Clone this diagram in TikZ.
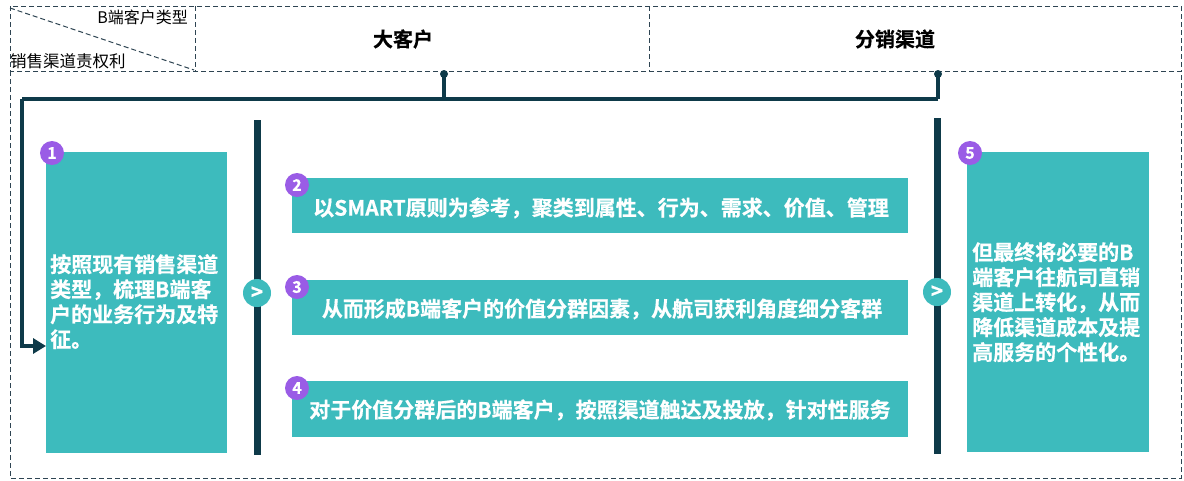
\documentclass[tikz,border=0pt]{standalone}
\usepackage{fontspec}
\setmainfont{Noto Sans CJK SC}
\newfontfamily\cjkb[FakeBold=0.6]{Noto Sans CJK SC Bold}
\usetikzlibrary{arrows.meta}
\definecolor{teal1}{HTML}{3DBBBD}
\definecolor{dark1}{HTML}{0E3A49}
\definecolor{purp}{HTML}{9A5CE6}
\definecolor{bord}{HTML}{2E4452}
\tikzset{
  box/.style={fill=teal1, draw=none},
  bigtxt/.style={text=white, font=\cjkb\fontsize{21}{25}\selectfont, align=left, inner sep=0pt},
  rowtxt/.style={text=white, font=\cjkb\fontsize{21}{23}\selectfont, inner sep=0pt},
  badge/.style={circle, fill=purp, minimum size=24pt, inner sep=0pt, text=white, font=\cjkb\fontsize{16}{16}\selectfont},
  nextc/.style={circle, fill=teal1, minimum size=28pt, inner sep=0pt, text=white, font=\cjkb\fontsize{21}{21}\selectfont},
  dbord/.style={draw=bord, line width=1pt, dash pattern=on 5pt off 3pt},
  conn/.style={draw=dark1, line width=3.2pt},
  vbar/.style={fill=dark1, draw=none},
  dotc/.style={circle, fill=dark1, minimum size=8pt, inner sep=0pt},
}
\begin{document}
\begin{tikzpicture}[x=1pt, y=-1pt]
\useasboundingbox (0,0) rectangle (1184,480);
% header
\draw[dbord] (10,6) rectangle (1181,71);
\draw[dbord] (195,6) -- (195,71);
\draw[dbord] (649,6) -- (649,71);
\draw[dbord] (10,8) -- (194,70);
\node[anchor=east, inner sep=0pt, font=\fontsize{16}{16}\selectfont] (hb) at (188,17) {B端客户类型};
\node[anchor=west, inner sep=0pt, font=\fontsize{16.5}{16.5}\selectfont] (hs) at (10,61) {销售渠道责权利};
\node[inner sep=0pt, font=\cjkb\fontsize{20}{20}\selectfont] (h1) at (403,39) {大客户};
\node[inner sep=0pt, font=\cjkb\fontsize{20}{20}\selectfont] (h2) at (895,39) {分销渠道};
% body border
\draw[dbord] (10,71) rectangle (1181,478);
% connectors
\node[dotc] (d1) at (444,74) {};
\node[dotc] (d2) at (938,74) {};
\coordinate (c1) at (444,99);
\coordinate (c2) at (938,99);
\coordinate (c0) at (22,99);
\coordinate (c3) at (22,346);
\draw[conn] (d1.center) -- (c1);
\draw[conn] (d2.center) -- (c2);
\draw[conn] (c2) -- (c0);
% boxes
\node[box, minimum width=181pt, minimum height=301pt, inner sep=0pt, anchor=north west] (b1) at (46,152) {};
\node[bigtxt, anchor=north west] (t1) at (50,254) {按照现有销售渠道\\类型，梳理B端客\\户的业务行为及特\\征。};
\draw[conn, -{Triangle[length=13pt,width=15pt]}] (c0) -- (c3) -- (c3 -| b1.west);
\node[box, minimum width=182pt, minimum height=300pt, inner sep=0pt, anchor=north west] (b5) at (967,152) {};
\node[bigtxt, anchor=north west] (t5) at (972,242) {但最终将必要的B\\端客户往航司直销\\渠道上转化，从而\\降低渠道成本及提\\高服务的个性化。};

\node[box, minimum width=616pt, minimum height=55pt, inner sep=0pt, anchor=north west] (b2) at (292,178) {};
\node[box, minimum width=616pt, minimum height=55pt, inner sep=0pt, anchor=north west] (b3) at (292,280) {};
\node[box, minimum width=616pt, minimum height=56pt, inner sep=0pt, anchor=north west] (b4) at (292,381) {};
\node[rowtxt] (t2) at (601,208) {以SMART原则为参考，聚类到属性、行为、需求、价值、管理};
\node[rowtxt] (t3) at (602,309) {从而形成B端客户的价值分群因素，从航司获利角度细分客群};
\node[rowtxt] (t4) at (600,410) {对于价值分群后的B端客户，按照渠道触达及投放，针对性服务};
% vertical bars
\fill[vbar] (254,120) rectangle (260.5,455);
\fill[vbar] (934,118) rectangle (940.5,454);
\node[nextc] (n1) at (257,293) {>};
\node[nextc] (n2) at (937,292) {>};
% badges
\node[badge] (g1) at (52,153) {1};
\node[badge] (g2) at (297,185) {2};
\node[badge] (g3) at (297,287) {3};
\node[badge] (g4) at (297,388) {4};
\node[badge] (g5) at (970,153) {5};
\end{tikzpicture}
\end{document}
